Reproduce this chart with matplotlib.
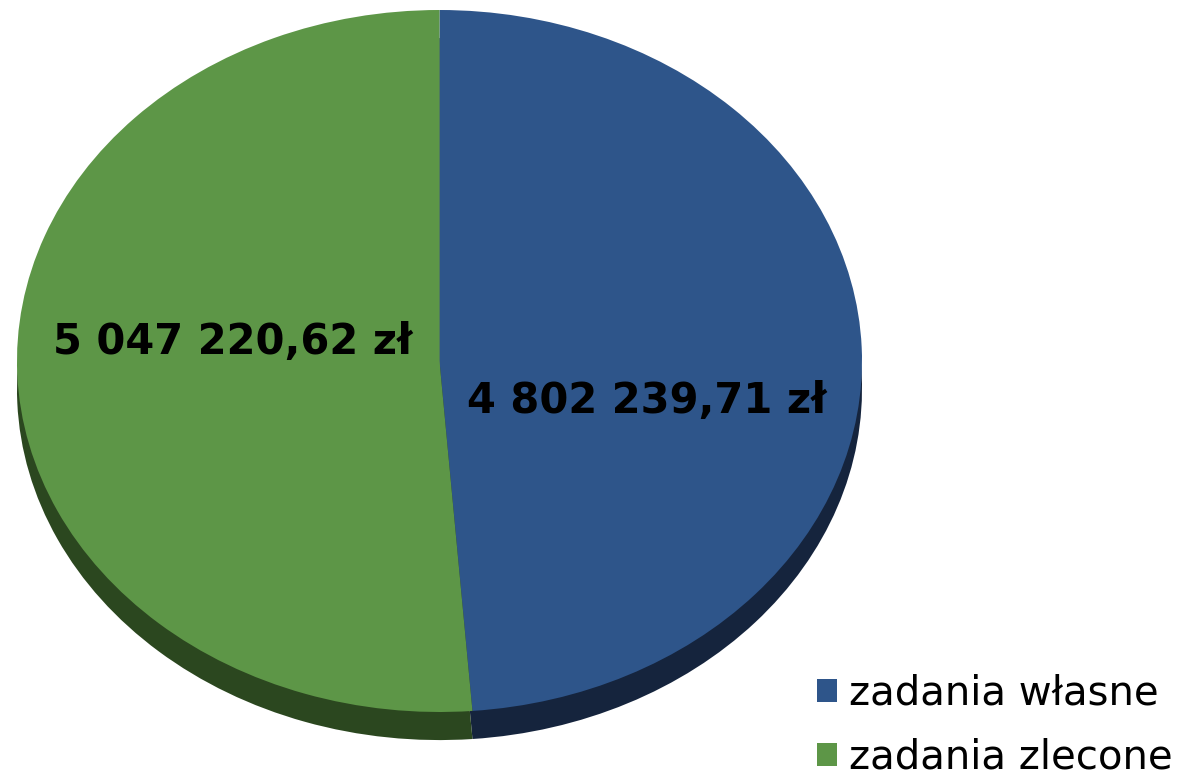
import matplotlib.pyplot as plt

# Data
labels = ['zadania własne', 'zadania zlecone']
values = [4802239.71, 5047220.62]
value_texts = ['4 802 239,71 zł', '5 047 220,62 zł']
top_colors = ['#2E558A', '#5D9647']
side_colors = ['#15243D', '#2B471F']

fig = plt.figure(figsize=(11.84, 7.81), dpi=100)
ax = fig.add_axes([0, 0, 1, 1])

# side (depth) of the 3D-looking pie, shifted down
depth = 0.08
ax.pie(values, colors=side_colors, startangle=90, counterclock=False,
       center=(0, -depth), radius=1, wedgeprops=dict(linewidth=0))
wedges, _ = ax.pie(values, colors=top_colors, startangle=90, counterclock=False,
                   center=(0, 0), radius=1, wedgeprops=dict(linewidth=0))

# stretch the circle to an ellipse like the original
ax.set_aspect('auto')
ax.set_xlim(-1.0402, 1.7621)
ax.set_ylim(-1.1966, 1.0285)
ax.axis('off')

# value labels
ax.text(0.49, -0.115, value_texts[0], fontsize=30, fontweight='bold',
        ha='center', va='center', color='black')
ax.text(-0.49, 0.055, value_texts[1], fontsize=30, fontweight='bold',
        ha='center', va='center', color='black')

leg = ax.legend(wedges, labels, loc='lower left', bbox_to_anchor=(0.690, 0.004),
                frameon=False, fontsize=29, handlelength=0.5, handleheight=0.5,
                handletextpad=0.3, labelspacing=0.6, borderaxespad=0,
                borderpad=0)

fig.savefig('out.png', dpi=100)
